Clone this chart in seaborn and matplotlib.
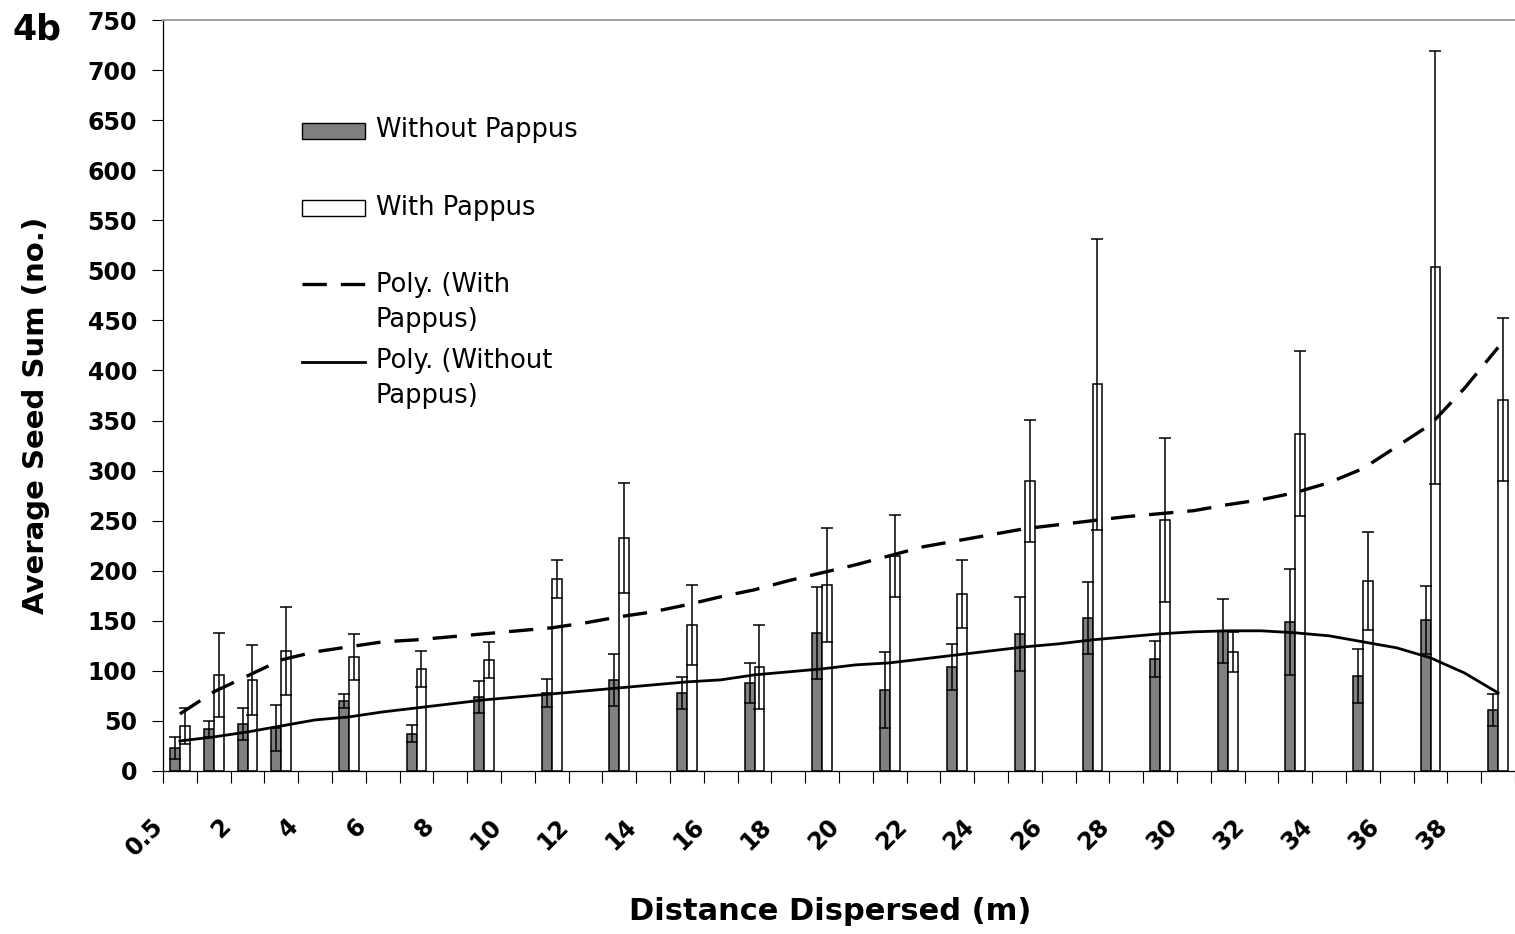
import matplotlib
matplotlib.use("Agg")
import matplotlib.pyplot as plt
from matplotlib.transforms import ScaledTranslation
from matplotlib.patches import Rectangle
from matplotlib.lines import Line2D
import seaborn as sns
import pandas as pd
import numpy as np

# ---------------- data ----------------
categories = ["0.5"] + [str(i) for i in range(1, 40)]          # category axis (40 slots)
tick_labels = ["0.5"] + [str(i) for i in range(2, 40, 2)]        # every other category labelled

data_dist = ["0.5", "1", "2", "3", "5", "7", "9", "11", "13", "15", "17",
             "19", "21", "23", "25", "27", "29", "31", "33", "35", "37", "39"]
without_mean = [23, 42, 47, 43, 70, 37, 74, 78, 91, 78, 88,
                138, 81, 104, 137, 153, 112, 140, 149, 95, 151, 61]
without_err = [11, 8, 16, 23, 7, 8.5, 16, 14, 26, 16, 20,
               46, 38, 23, 37, 36, 18, 32, 53, 27, 34, 16]
with_mean = [45, 96, 91, 120, 114, 102, 111, 192, 233, 146, 104,
             186, 215, 177, 290, 386, 251, 119, 337, 190, 503, 371]
with_err = [18, 42, 35, 44, 23, 18, 18, 19, 55, 40, 42,
            57, 41, 34, 61, 145, 82, 20, 82, 49, 216, 81]

# polynomial trend lines, read at every category slot
trend_with = [57, 79, 95, 111, 119, 124, 129, 131, 134, 137, 140, 143, 148, 154,
              159, 166, 174, 181, 190, 198, 206, 215, 224, 230, 236, 242, 246,
              250, 254, 257, 260, 266, 271, 278, 288, 302, 324, 346, 382, 423]
trend_without = [30, 34, 39, 45, 51, 54, 59, 63, 67, 71, 74, 77, 80, 83, 86, 89,
                 91, 96, 99, 102, 106, 108, 112, 116, 120, 124, 127, 131, 134,
                 137, 139, 140, 140, 138, 135, 129, 123, 113, 98, 78]

series_names = ["Without Pappus", "With Pappus"]
legend_labels = ["Without Pappus", "With Pappus", "Poly. (With\nPappus)", "Poly. (Without\nPappus)"]

# ---------------- figure ----------------
plt.rcParams["font.family"] = ["DejaVu Sans"]
W, H = 1515, 934
fig = plt.figure(figsize=(W / 100, H / 100), dpi=100)
ax_l, ax_b, ax_w, ax_h = 163, 771, 1352, 751   # pixel geometry of plot area
ax = fig.add_axes([ax_l / W, (H - ax_b) / H, ax_w / W, ax_h / H])

df = pd.DataFrame({
    "dist": data_dist * 2,
    "series": [series_names[0]] * len(data_dist) + [series_names[1]] * len(data_dist),
    "value": without_mean + with_mean,
})

sns.barplot(data=df, x="dist", y="value", hue="series", order=categories,
            hue_order=series_names, palette=["#808080", "#ffffff"],
            saturation=1, width=0.59, errorbar=None, edgecolor="black",
            linewidth=1.1, legend=False, ax=ax, zorder=2)

# error bars placed at the bar centres seaborn computed
errs = [dict(zip(data_dist, without_err)), dict(zip(data_dist, with_err))]
for h, cont in enumerate(ax.containers[:2]):
    xs, ys, es = [], [], []
    for bar in cont:
        cx = bar.get_x() + bar.get_width() / 2
        cat = categories[int(round(cx))]
        xs.append(cx)
        ys.append(bar.get_height())
        es.append(errs[h][cat])
    ax.errorbar(xs, ys, yerr=es, fmt="none", ecolor="black", elinewidth=1.1,
                capsize=4.3, capthick=1.1, zorder=3)

idx = np.arange(len(categories))
ax.plot(idx, trend_with, color="black", lw=2.4, linestyle=(0, (7.3, 4.2)),
        zorder=4, solid_capstyle="butt", dash_capstyle="butt")
ax.plot(idx, trend_without, color="black", lw=2.0, zorder=4)

# ---------------- axes styling ----------------
ax.set_xlim(-0.5, 39.5)
ax.set_ylim(0, 750)
ax.set_yticks(np.arange(0, 751, 50))
ax.set_yticklabels([str(v) for v in range(0, 751, 50)], fontsize=17, fontweight="bold")
ax.tick_params(axis="y", direction="out", length=7.7, width=0.8, pad=11, color="black")

ax.set_xticks(np.arange(0, 40, 2))
ax.set_xticklabels(tick_labels, fontsize=17, fontweight="bold", rotation=45,
                   ha="right", va="top")
ax.set_xticks(np.arange(-0.5, 40, 1), minor=True)
ax.tick_params(axis="x", which="major", length=0, pad=31)
ax.tick_params(axis="x", which="minor", direction="out", length=8.6, width=0.8, color="black")
off = ScaledTranslation(-12 / 100, 0, fig.dpi_scale_trans)
for lbl in ax.get_xticklabels():
    lbl.set_transform(lbl.get_transform() + off)

for s in ["left", "bottom"]:
    ax.spines[s].set_color("black")
    ax.spines[s].set_linewidth(0.9)
ax.spines["right"].set_visible(False)
ax.spines["top"].set_color("#a0a0a0")
ax.spines["top"].set_linewidth(1.4)
ax.grid(False)

ax.set_xlabel("Distance Dispersed (m)", fontsize=22, fontweight="bold")
ax.set_ylabel("Average Seed Sum (no.)", fontsize=21, fontweight="bold")
ax.xaxis.set_label_coords((830 - ax_l) / ax_w, (ax_b - 912) / ax_h)
ax.xaxis.label.set_va("center")
ax.yaxis.set_label_coords((36 - ax_l) / ax_w, (ax_b - 415) / ax_h)
ax.yaxis.label.set_va("center")

fig.text(12 / W, 1 - 40 / H, "4b", fontsize=25, fontweight="bold", ha="left", va="baseline")

# ---------------- legend (drawn in plot area) ----------------
def fx(px):
    return (px - ax_l) / ax_w

def fy(py):
    return (ax_b - py) / ax_h

ax.add_patch(Rectangle((fx(302), fy(139)), 63 / ax_w, 16 / ax_h, transform=ax.transAxes,
                       facecolor="#808080", edgecolor="black", lw=1.0, zorder=5))
ax.add_patch(Rectangle((fx(302), fy(216)), 63 / ax_w, 16 / ax_h, transform=ax.transAxes,
                       facecolor="#ffffff", edgecolor="black", lw=1.0, zorder=5))
ax.add_line(Line2D([fx(302), fx(365)], [fy(284), fy(284)], transform=ax.transAxes,
                   color="black", lw=2.4, linestyle=(0, (7.3, 4.2)), zorder=5))
ax.add_line(Line2D([fx(302), fx(365)], [fy(362), fy(362)], transform=ax.transAxes,
                   color="black", lw=2.0, zorder=5))

legend_baselines = [[137], [215], [292, 327], [368, 403]]
for lab, bases in zip(legend_labels, legend_baselines):
    for line, b in zip(lab.split("\n"), bases):
        ax.text(fx(376), fy(b), line, transform=ax.transAxes, fontsize=18.5,
                ha="left", va="baseline", zorder=5)

fig.savefig("out.png", dpi=100)
